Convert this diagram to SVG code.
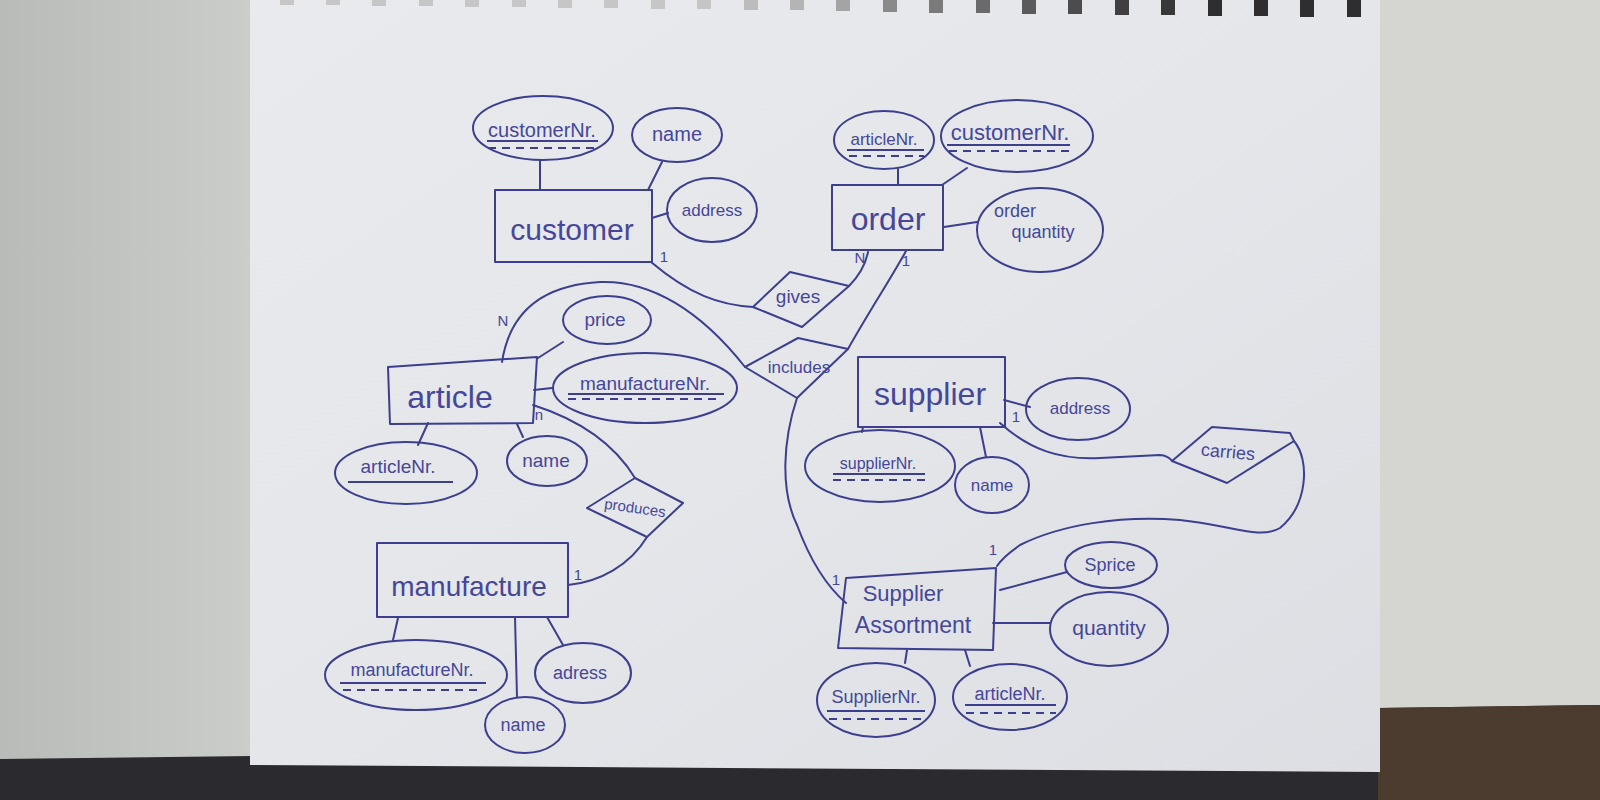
<svg xmlns="http://www.w3.org/2000/svg" width="1600" height="800" viewBox="0 0 1600 800">
<defs>
<linearGradient id="paper" x1="0" y1="0" x2="1" y2="1">
<stop offset="0" stop-color="#e8eaed"/><stop offset="0.5" stop-color="#e4e6ea"/><stop offset="1" stop-color="#dcdee3"/>
</linearGradient>
<linearGradient id="leftbg" x1="0" y1="0" x2="1" y2="0">
<stop offset="0" stop-color="#b9bbb9"/><stop offset="1" stop-color="#cbcdcb"/>
</linearGradient>
<style>
.ln{fill:none;stroke:#3d3e90;stroke-width:2;stroke-linecap:round;stroke-linejoin:round}
.ent{fill:none;stroke:#3d3e90;stroke-width:2;stroke-linejoin:round}
.att{fill:none;stroke:#3d3e90;stroke-width:2}
.rel{fill:none;stroke:#3d3e90;stroke-width:2;stroke-linejoin:round}
.ul{stroke:#3d3e90;stroke-width:2}
.dul{stroke:#3d3e90;stroke-width:2;stroke-dasharray:8 6}
.t{font-family:"Liberation Sans",Arial,sans-serif;fill:#45469c;text-anchor:middle}
.te{font-size:30px}
.ta{font-size:18px}
.tc{font-size:15px}
.sp{fill:#c6c6c6}
.sd{fill:#2e2e30}
</style>
</defs>

<g id="background">
<rect x="0" y="0" width="1600" height="800" fill="#2b2b2f"/>
<polygon points="0,0 252,0 252,756 0,759" fill="url(#leftbg)"/>
<polygon points="1378,0 1600,0 1600,705 1378,708" fill="#d5d5d1"/>
<polygon points="1378,708 1600,705 1600,800 1378,800" fill="#4b3c2f"/>
<polygon points="250,0 1380,0 1380,772 250,765" fill="url(#paper)"/>
<g id="spiral">
<rect class="sp" x="280" y="0" width="14" height="5"/>
<rect class="sp" x="326" y="0" width="14" height="5"/>
<rect class="sp" x="372" y="0" width="14" height="6"/>
<rect class="sp" x="419" y="0" width="14" height="6"/>
<rect class="sp" x="465" y="0" width="14" height="7"/>
<rect class="sp" x="512" y="0" width="14" height="7"/>
<rect class="sp" x="558" y="0" width="14" height="8"/>
<rect class="sp" x="604" y="0" width="14" height="8"/>
<rect class="sp" x="651" y="0" width="14" height="9"/>
<rect class="sp" x="697" y="0" width="14" height="9"/>
<rect x="744" y="0" width="14" height="10" fill="#bcbcbc"/>
<rect x="790" y="0" width="14" height="10" fill="#b4b4b4"/>
<rect x="836" y="0" width="14" height="11" fill="#a4a4a4"/>
<rect x="883" y="0" width="14" height="12" fill="#8a8a8a"/>
<rect x="929" y="0" width="14" height="13" fill="#7a7a7a"/>
<rect x="976" y="0" width="14" height="13" fill="#6a6a6c"/>
<rect x="1022" y="0" width="14" height="14" fill="#5a5a5c"/>
<rect x="1068" y="0" width="14" height="14" fill="#4c4c4e"/>
<rect x="1115" y="0" width="14" height="15" fill="#404042"/>
<rect x="1161" y="0" width="14" height="15" fill="#383839"/>
<rect class="sd" x="1208" y="0" width="14" height="16"/>
<rect class="sd" x="1254" y="0" width="14" height="16"/>
<rect class="sd" x="1300" y="0" width="14" height="17"/>
<rect class="sd" x="1347" y="0" width="14" height="17"/>
</g>
</g>

<g id="connectors">
<path class="ln" d="M651,262 C690,295 720,305 753,307"/>
<path class="ln" d="M849,286 C860,275 866,262 868,252"/>
<path class="ln" d="M848,349 C870,310 890,280 906,251"/>
<path class="ln" d="M502,362 C510,310 545,285 600,282 C650,280 700,310 745,367"/>
<path class="ln" d="M797,398 C783,440 780,490 797,525 C810,560 825,585 846,603"/>
<path class="ln" d="M533,405 C580,420 615,445 635,478"/>
<path class="ln" d="M647,537 C630,565 600,582 568,585"/>
<path class="ln" d="M1000,423 C1030,450 1060,460 1100,458 L1160,455 C1165,455 1170,458 1172,461"/>
<path class="ln" d="M1294,441 C1310,460 1308,505 1280,528 C1260,540 1230,525 1180,520 C1120,515 1060,525 1020,545 C1010,552 1002,558 997,566"/>
<!-- attribute links -->
<path class="ln" d="M540,160 L540,190"/>
<path class="ln" d="M662,162 L648,190"/>
<path class="ln" d="M652,218 L668,213"/>
<path class="ln" d="M898,169 L898,185"/>
<path class="ln" d="M967,168 L942,185"/>
<path class="ln" d="M944,227 L977,222"/>
<path class="ln" d="M563,342 L538,358"/>
<path class="ln" d="M534,390 L552,388"/>
<path class="ln" d="M428,423 L418,445"/>
<path class="ln" d="M517,424 L523,437"/>
<path class="ln" d="M398,618 L393,640"/>
<path class="ln" d="M515,617 L517,697"/>
<path class="ln" d="M547,617 L563,645"/>
<path class="ln" d="M1004,400 L1030,407"/>
<path class="ln" d="M863,427 L862,432"/>
<path class="ln" d="M980,427 L986,457"/>
<path class="ln" d="M1000,590 L1067,572"/>
<path class="ln" d="M993,623 L1050,623"/>
<path class="ln" d="M907,650 L905,663"/>
<path class="ln" d="M965,650 L970,666"/>
<!-- cardinalities -->
<text class="t tc" x="664" y="262">1</text>
<text class="t tc" x="860" y="263">N</text>
<text class="t tc" x="906" y="266">1</text>
<text class="t tc" x="503" y="326">N</text>
<text class="t tc" x="539" y="420">n</text>
<text class="t tc" x="578" y="580">1</text>
<text class="t tc" x="1016" y="422">1</text>
<text class="t tc" x="836" y="585">1</text>
<text class="t tc" x="993" y="555">1</text>
</g>

<g id="customer">
<rect class="ent" x="495" y="190" width="157" height="72"/>
<text class="t te" x="572" y="240">customer</text>
</g>
<g id="customer-customerNr">
<ellipse class="att" cx="543" cy="128" rx="70" ry="32"/>
<text class="t" font-size="20" x="542" y="137">customerNr.</text>
<line class="ul" x1="487" y1="141" x2="598" y2="141"/>
<line class="dul" x1="488" y1="148" x2="598" y2="148"/>
</g>
<g id="customer-name">
<ellipse class="att" cx="677" cy="135" rx="45" ry="27"/>
<text class="t" font-size="20" x="677" y="141">name</text>
</g>
<g id="customer-address">
<ellipse class="att" cx="712" cy="210" rx="45" ry="32"/>
<text class="t" font-size="17" x="712" y="216">address</text>
</g>

<g id="order">
<rect class="ent" x="832" y="185" width="111" height="65"/>
<text class="t" font-size="32" x="888" y="230">order</text>
</g>
<g id="order-articleNr">
<ellipse class="att" cx="884" cy="140" rx="50" ry="29"/>
<text class="t" font-size="17" x="884" y="145">articleNr.</text>
<line class="ul" x1="847" y1="150" x2="924" y2="150"/>
<line class="dul" x1="849" y1="156" x2="924" y2="156"/>
</g>
<g id="order-customerNr">
<ellipse class="att" cx="1017" cy="136" rx="76" ry="36"/>
<text class="t" font-size="22" x="1010" y="140">customerNr.</text>
<line class="ul" x1="947" y1="145" x2="1070" y2="145"/>
<line class="dul" x1="949" y1="151" x2="1072" y2="151"/>
</g>
<g id="order-quantity">
<ellipse class="att" cx="1040" cy="230" rx="63" ry="42"/>
<text class="t" font-size="18" x="1015" y="217">order</text>
<text class="t" font-size="18" x="1043" y="238">quantity</text>
</g>

<g id="gives">
<polygon class="rel" points="753,307 790,272 849,286 802,327"/>
<text class="t" font-size="19" x="798" y="303">gives</text>
</g>
<g id="includes">
<polygon class="rel" points="745,367 798,338 848,349 797,398"/>
<text class="t" font-size="17" x="799" y="373">includes</text>
</g>

<g id="article">
<polygon class="ent" points="388,367 537,357 533,423 390,424"/>
<text class="t" font-size="32" x="450" y="408">article</text>
</g>
<g id="article-price">
<ellipse class="att" cx="607" cy="320" rx="44" ry="24"/>
<text class="t" font-size="19" x="605" y="326">price</text>
</g>
<g id="article-manufactureNr">
<ellipse class="att" cx="645" cy="388" rx="92" ry="35"/>
<text class="t" font-size="19" x="645" y="390">manufactureNr.</text>
<line class="ul" x1="568" y1="394" x2="724" y2="394"/>
<line class="dul" x1="568" y1="399" x2="722" y2="399" stroke-width="3"/>
</g>
<g id="article-articleNr">
<ellipse class="att" cx="406" cy="473" rx="71" ry="31"/>
<text class="t" font-size="19" x="398" y="473">articleNr.</text>
<line class="ul" x1="348" y1="482" x2="453" y2="482"/>
</g>
<g id="article-name">
<ellipse class="att" cx="547" cy="461" rx="40" ry="25"/>
<text class="t" font-size="19" x="546" y="467">name</text>
</g>

<g id="produces">
<polygon class="rel" points="587,508 635,478 683,503 647,537"/>
<text class="t" font-size="15" x="635" y="513" transform="rotate(8 635 508)">produces</text>
</g>

<g id="manufacture">
<rect class="ent" x="377" y="543" width="191" height="74"/>
<text class="t" font-size="28" x="469" y="596">manufacture</text>
</g>
<g id="manufacture-manufactureNr">
<ellipse class="att" cx="416" cy="675" rx="91" ry="35"/>
<text class="t" font-size="18" x="412" y="676">manufactureNr.</text>
<line class="ul" x1="340" y1="683" x2="486" y2="683"/>
<line class="dul" x1="343" y1="690" x2="478" y2="690"/>
</g>
<g id="manufacture-name">
<ellipse class="att" cx="525" cy="725" rx="40" ry="28"/>
<text class="t" font-size="18" x="523" y="731">name</text>
</g>
<g id="manufacture-adress">
<ellipse class="att" cx="583" cy="673" rx="48" ry="30"/>
<text class="t" font-size="18" x="580" y="679">adress</text>
</g>

<g id="supplier">
<rect class="ent" x="858" y="357" width="147" height="70"/>
<text class="t" font-size="32" x="930" y="405">supplier</text>
</g>
<g id="supplier-address">
<ellipse class="att" cx="1078" cy="409" rx="52" ry="31"/>
<text class="t" font-size="17" x="1080" y="414">address</text>
</g>
<g id="supplier-supplierNr">
<ellipse class="att" cx="880" cy="466" rx="75" ry="36"/>
<text class="t" font-size="16" x="878" y="469">supplierNr.</text>
<line class="ul" x1="833" y1="474" x2="925" y2="474"/>
<line class="dul" x1="833" y1="480" x2="927" y2="480"/>
</g>
<g id="supplier-name">
<ellipse class="att" cx="992" cy="485" rx="37" ry="28"/>
<text class="t" font-size="17" x="992" y="491">name</text>
</g>

<g id="carries">
<polygon class="rel" points="1172,461 1212,427 1290,433 1294,441 1227,483"/>
<text class="t" font-size="18" x="1228" y="458" transform="rotate(5 1228 452)">carries</text>
</g>

<g id="supplier-assortment">
<polygon class="ent" points="846,578 996,568 993,650 838,648"/>
<text class="t" font-size="22" x="903" y="601">Supplier</text>
<text class="t" font-size="23" x="913" y="633">Assortment</text>
</g>
<g id="sa-sprice">
<ellipse class="att" cx="1111" cy="565" rx="46" ry="23"/>
<text class="t" font-size="18" x="1110" y="571">Sprice</text>
</g>
<g id="sa-quantity">
<ellipse class="att" cx="1109" cy="629" rx="59" ry="37"/>
<text class="t" font-size="21" x="1109" y="635">quantity</text>
</g>
<g id="sa-supplierNr">
<ellipse class="att" cx="876" cy="700" rx="59" ry="37"/>
<text class="t" font-size="18" x="876" y="703">SupplierNr.</text>
<line class="ul" x1="827" y1="711" x2="925" y2="711"/>
<line class="dul" x1="829" y1="719" x2="925" y2="719"/>
</g>
<g id="sa-articleNr">
<ellipse class="att" cx="1010" cy="697" rx="57" ry="33"/>
<text class="t" font-size="18" x="1010" y="700">articleNr.</text>
<line class="ul" x1="965" y1="705" x2="1056" y2="705"/>
<line class="dul" x1="966" y1="713" x2="1056" y2="713"/>
</g>
</svg>
